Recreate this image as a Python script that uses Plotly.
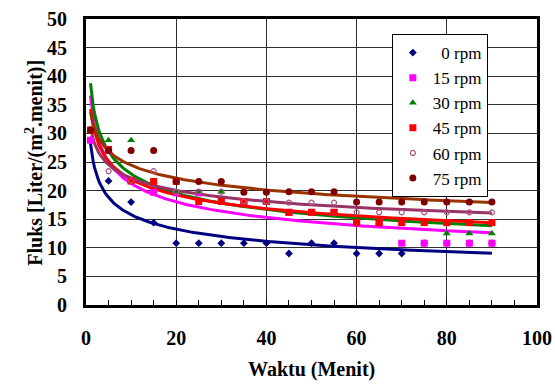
import numpy as np
import plotly.graph_objects as go

# ---- data ----
waktu = [1, 5, 10, 15, 20, 25, 30, 35, 40, 45, 50, 55, 60, 65, 70, 75, 80, 85, 90]

rpm_0 = [28.8, 21.7, 18.0, 14.4, 10.8, 10.8, 10.8, 10.8, 10.8, 9.0, 10.8, 10.8, 9.0, 9.0, 9.0, 10.8, 10.8, 10.8, 10.8]
rpm_15 = [28.8, 27.0, 21.7, 19.7, 19.6, 19.6, 18.1, 18.1, 18.1, 16.2, 16.2, 16.2, 14.4, 14.4, 10.8, 10.8, 10.8, 10.8, 10.8]
rpm_30 = [30.6, 28.8, 28.8, 21.6, 19.8, 19.8, 19.8, 18.1, 18.1, 16.2, 16.2, 16.2, 14.4, 14.4, 14.4, 14.4, 12.5, 12.5, 12.5]
rpm_45 = [30.6, 27.2, 21.7, 21.6, 21.6, 18.1, 18.1, 18.1, 18.1, 16.2, 16.2, 16.2, 14.4, 14.4, 14.4, 14.4, 14.4, 14.4, 14.4]
rpm_60 = [30.6, 23.4, 21.7, 23.4, 19.8, 19.8, 19.8, 18.1, 18.1, 17.9, 17.9, 17.9, 16.2, 16.2, 16.2, 16.2, 16.2, 16.2, 16.2]
rpm_75 = [30.6, 27.0, 27.0, 27.0, 21.6, 21.6, 21.6, 19.7, 19.7, 19.8, 19.8, 19.8, 18.0, 18.0, 18.0, 18.0, 18.0, 18.0, 18.0]

labels = ["\u20070 rpm", "15 rpm", "30 rpm", "45 rpm", "60 rpm", "75 rpm"]
series = [rpm_0, rpm_15, rpm_30, rpm_45, rpm_60, rpm_75]

x_title = "<b>Waktu (Menit)</b>"
y_title = "<b>Fluks [Liter/(m<sup>2</sup>.menit)]</b>"

marker_colors = ["#000080", "#FF00FF", "#008000", "#FF0000", "#B05080", "#800000"]
line_colors = ["#000080", "#FF00FF", "#008000", "#FF0000", "#993366", "#993300"]
symbols = ["diamond", "square", "triangle-up", "square", "circle-open", "circle"]
sizes = [6, 7, 7, 7, 5, 7]

fig = go.Figure()

# power trendlines (least squares on log-log, like a spreadsheet power trendline)
xs = np.linspace(min(waktu), max(waktu), 300)
lx = np.log(np.array(waktu, dtype=float))
for ys, col in zip(series, line_colors):
    k, b = np.polyfit(lx, np.log(np.array(ys, dtype=float)), 1)
    fig.add_trace(go.Scatter(x=xs, y=np.exp(b) * xs ** k, mode="lines",
                             line=dict(color=col, width=3), showlegend=False,
                             hoverinfo="skip"))

for ys, lab, mc, sym, sz in zip(series, labels, marker_colors, symbols, sizes):
    fig.add_trace(go.Scatter(x=waktu, y=ys, mode="markers", name=lab,
                             marker=dict(color=mc, symbol=sym, size=sz,
                                         line=dict(color=mc, width=1.2 if sym == "circle-open" else 0))))

FF = "Liberation Serif, Times New Roman, serif"

fig.update_layout(
    width=555, height=385,
    margin=dict(l=86, r=18, t=19, b=80, autoexpand=False),
    paper_bgcolor="white", plot_bgcolor="white",
    font=dict(family=FF, color="black"),
    showlegend=True,
    legend=dict(x=0.891, xanchor="right", y=0.9476, yanchor="top",
                bgcolor="white", bordercolor="#000000", borderwidth=1,
                font=dict(family=FF, size=17, color="black"),
                itemwidth=30, tracegroupgap=0),
    xaxis=dict(range=[0, 100], dtick=20, showgrid=True, gridcolor="#303030", gridwidth=1,
               showline=True, linecolor="black", linewidth=3, mirror=True,
               ticks="inside", ticklen=5, tickcolor="black", automargin=False,
               minor=dict(dtick=5, ticks="inside", ticklen=5, tickcolor="black", showgrid=False),
               tickfont=dict(family=FF, size=20, color="black", weight="bold"),
               ticklabelstandoff=13, zeroline=False),
    yaxis=dict(range=[0, 50], dtick=5, showgrid=True, gridcolor="#303030", gridwidth=1,
               showline=True, linecolor="black", linewidth=3, mirror=True,
               ticks="", automargin=False,
               tickfont=dict(family=FF, size=20, color="black", weight="bold"),
               ticklabelstandoff=12, zeroline=False),
    annotations=[
        dict(text=x_title, xref="paper", yref="paper", x=0.5, y=-0.227,
             xanchor="center", yanchor="middle", showarrow=False,
             font=dict(family=FF, size=20, color="black")),
        dict(text=y_title, xref="paper", yref="paper", x=-0.115, y=0.498,
             xanchor="center", yanchor="middle", textangle=-90, showarrow=False,
             font=dict(family=FF, size=20, color="black")),
    ],
)

fig.write_html("out.html", config={"displayModeBar": False},
               post_script="document.body.style.margin='0';")
